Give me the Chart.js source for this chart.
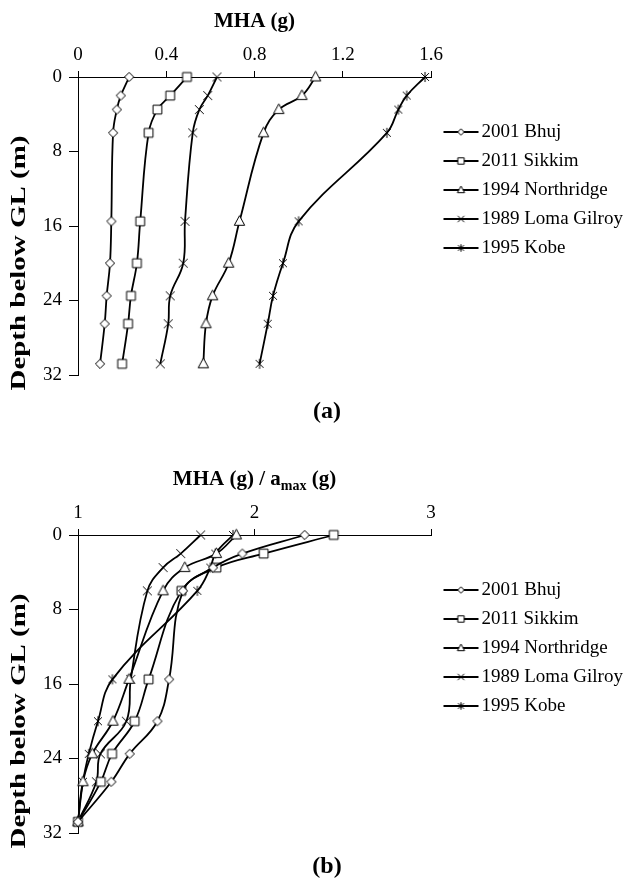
<!DOCTYPE html>
<html>
<head>
<meta charset="utf-8">
<script src="https://cdn.jsdelivr.net/npm/chart.js@4/dist/chart.umd.min.js"></script>
<style>
  html, body { margin: 0; padding: 0; background: #fff; }
  body { width: 630px; height: 878px; position: relative; overflow: hidden; }
  .wrap { position: absolute; left: 0; width: 630px; height: 420px; }
  .panel { position: absolute; font: bold 24px "Liberation Serif", "Times New Roman", serif; color: #000;
           width: 100px; text-align: center; line-height: 24px; }
</style>
</head>
<body>
<div class="wrap" style="top:0px"><canvas id="chartA" width="630" height="420"></canvas></div>
<div class="wrap" style="top:458px"><canvas id="chartB" width="630" height="420"></canvas></div>
<div class="panel" style="left:277px; top:398px">(a)</div>
<div class="panel" style="left:277px; top:853px">(b)</div>
<script>
// ---------- data ----------
const seriesNames = ['2001 Bhuj', '2011 Sikkim', '1994 Northridge', '1989 Loma Gilroy', '1995 Kobe'];
const depths = [0, 2, 3.5, 6, 15.5, 20, 23.5, 26.5, 30.8];

// (a) MHA (g)
const bhujA     = [0.232, 0.194, 0.176, 0.159, 0.151, 0.145, 0.130, 0.121, 0.100];
const sikkimA   = [0.494, 0.418, 0.360, 0.320, 0.282, 0.267, 0.240, 0.227, 0.200];
const northA    = [1.077, 1.015, 0.910, 0.841, 0.732, 0.683, 0.610, 0.580, 0.568];
const lomaA     = [0.630, 0.588, 0.550, 0.520, 0.485, 0.477, 0.418, 0.409, 0.373];
const kobeA     = [1.573, 1.490, 1.452, 1.400, 1.000, 0.929, 0.884, 0.860, 0.823];

// (b) MHA / amax
const bhujB     = [2.284, 1.931, 1.765, 1.595, 1.516, 1.450, 1.293, 1.189, 1.000];
const sikkimB   = [2.449, 2.052, 1.784, 1.586, 1.400, 1.321, 1.193, 1.129, 1.000];
const northB    = [1.897, 1.784, 1.605, 1.482, 1.289, 1.198, 1.081, 1.028, 1.000];
const lomaB     = [1.695, 1.582, 1.482, 1.393, 1.299, 1.274, 1.127, 1.104, 1.000];
const kobeB     = [1.878, 1.778, 1.750, 1.676, 1.195, 1.113, 1.061, 1.028, 1.000];

const xTickValsA = [0, 0.4, 0.8, 1.2, 1.6];
const xTickLabelsA = ['0', '0.4', '0.8', '1.2', '1.6'];
const xTickValsB = [1, 2, 3];
const xTickLabelsB = ['1', '2', '3'];
const yTickVals = [0, 8, 16, 24, 32];
const yTickLabels = ['0', '8', '16', '24', '32'];

const yTitle = 'Depth below GL (m)';
const xTitleA = [{text: 'MHA (g)'}];
const xTitleB = [{text: 'MHA (g) / a'}, {text: 'max', sub: true}, {text: ' (g)'}];

// ---------- markers ----------
const FONT = '"Liberation Serif", "Times New Roman", serif';

function drawMarker(g, kind, cx, cy, s) {
  g.save();
  g.strokeStyle = '#000'; g.fillStyle = '#fff'; g.lineWidth = 1;
  g.beginPath();
  if (kind === 'diamond') {
    g.moveTo(cx, cy - s); g.lineTo(cx + s, cy); g.lineTo(cx, cy + s); g.lineTo(cx - s, cy); g.closePath();
    g.fill(); g.stroke();
  } else if (kind === 'square') {
    g.rect(cx - s, cy - s, 2 * s, 2 * s); g.fill(); g.stroke();
  } else if (kind === 'triangle') {
    g.moveTo(cx, cy - s * 1.1); g.lineTo(cx + s, cy + s * 0.75); g.lineTo(cx - s, cy + s * 0.75); g.closePath();
    g.fill(); g.stroke();
  } else if (kind === 'x') {
    g.moveTo(cx - s, cy - s); g.lineTo(cx + s, cy + s); g.moveTo(cx + s, cy - s); g.lineTo(cx - s, cy + s); g.stroke();
  } else if (kind === 'star') {
    g.moveTo(cx - s * 0.85, cy - s * 0.85); g.lineTo(cx + s * 0.85, cy + s * 0.85);
    g.moveTo(cx + s * 0.85, cy - s * 0.85); g.lineTo(cx - s * 0.85, cy + s * 0.85);
    g.moveTo(cx, cy - s * 1.1); g.lineTo(cx, cy + s * 1.1); g.stroke();
  }
  g.restore();
}
function markerCanvas(kind, s) {
  const size = Math.ceil(2 * s * 1.2 + 4);
  const c = document.createElement('canvas'); c.width = size; c.height = size;
  drawMarker(c.getContext('2d'), kind, size / 2, size / 2, s);
  return c;
}
function legendCanvas(kind, s) {
  const c = document.createElement('canvas'); c.width = 46; c.height = 14;
  const g = c.getContext('2d');
  g.strokeStyle = '#000'; g.lineWidth = 1.8;
  g.beginPath(); g.moveTo(10, 7); g.lineTo(45, 7); g.stroke();
  drawMarker(g, kind, 27.5, 7, s);
  return c;
}
const kinds = ['diamond', 'square', 'triangle', 'x', 'star'];
const markerSizes = [4.6, 4.4, 5.2, 4.4, 4.6];
const legendSizes = [3.2, 3.2, 3.6, 3.2, 3.4];
const pointImgs = kinds.map((k, i) => markerCanvas(k, markerSizes[i]));
const legendImgs = kinds.map((k, i) => legendCanvas(k, legendSizes[i]));

// ---------- titles plugin ----------
const axisTitles = {
  id: 'axisTitles',
  afterDraw(chart, args, opts) {
    const {ctx, chartArea} = chart;
    ctx.save();
    ctx.fillStyle = '#000';
    const mainFont = 'bold ' + opts.size + 'px ' + FONT;
    const subFont = 'bold ' + opts.subSize + 'px ' + FONT;
    let total = 0;
    const widths = opts.xParts.map(p => { ctx.font = p.sub ? subFont : mainFont; const w = ctx.measureText(p.text).width; total += w; return w; });
    let x = (chartArea.left + chartArea.right) / 2 - total / 2;
    ctx.textBaseline = 'alphabetic'; ctx.textAlign = 'left';
    opts.xParts.forEach((p, i) => {
      ctx.font = p.sub ? subFont : mainFont;
      ctx.fillText(p.text, x, opts.xBaseline + (p.sub ? opts.subShift : 0));
      x += widths[i];
    });
    ctx.translate(opts.yCenterX, chartArea.top + opts.yCenterOffset);
    ctx.rotate(-Math.PI / 2);
    ctx.font = mainFont;
    const w = ctx.measureText(opts.yText).width;
    ctx.scale(opts.yLength / w, 1);
    ctx.textAlign = 'center'; ctx.textBaseline = 'middle';
    ctx.fillText(opts.yText, 0, 0);
    ctx.restore();
  }
};

function makeChart(id, seriesList, xMin, xMax, tickVals, tickLabels, titleParts) {
  const datasets = seriesList.map((vals, i) => ({
    label: seriesNames[i],
    data: vals.map((v, j) => ({x: v, y: depths[j]})),
    showLine: true,
    borderColor: '#000',
    borderWidth: 1.8,
    tension: 0.4,
    fill: false,
    pointStyle: pointImgs[i],
    pointRadius: 5,
    pointHoverRadius: 5,
    clip: false
  }));
  return new Chart(document.getElementById(id), {
    type: 'scatter',
    data: {datasets},
    plugins: [axisTitles],
    options: {
      responsive: false,
      animation: false,
      devicePixelRatio: 1,
      layout: {padding: {top: 5, bottom: 45, left: 0, right: 0}},
      scales: {
        x: {
          type: 'linear', position: 'top', min: xMin, max: xMax,
          afterBuildTicks: s => { s.ticks = tickVals.map(v => ({value: v})); },
          afterFit: s => { s.height = 72; },
          ticks: {
            color: '#000', padding: 5, maxRotation: 0,
            font: {family: FONT, size: 19},
            callback: (v, i) => tickLabels[i]
          },
          grid: {display: true, drawOnChartArea: false, drawTicks: true, tickLength: 6, color: '#000', lineWidth: 1},
          border: {display: true, color: '#000', width: 1}
        },
        y: {
          type: 'linear', position: 'left', reverse: true, min: 0, max: 32,
          afterBuildTicks: s => { s.ticks = yTickVals.map(v => ({value: v})); },
          afterFit: s => { s.width = 78; },
          ticks: {
            color: '#000', padding: 7,
            font: {family: FONT, size: 19},
            callback: (v, i) => yTickLabels[i]
          },
          grid: {display: true, drawOnChartArea: false, drawTicks: true, tickLength: 9, color: '#000', lineWidth: 1},
          border: {display: true, color: '#000', width: 1}
        }
      },
      plugins: {
        tooltip: {enabled: false},
        legend: {
          display: true, position: 'right', align: 'center', maxWidth: 199,
          labels: {
            color: '#000', font: {family: FONT, size: 19}, padding: 10,
            usePointStyle: true, pointStyleWidth: 31,
            generateLabels: chart => chart.data.datasets.map((ds, i) => ({
              text: ds.label, pointStyle: legendImgs[i], datasetIndex: i, hidden: false,
              lineWidth: 0, strokeStyle: 'rgba(0,0,0,0)', fillStyle: 'rgba(0,0,0,0)', fontColor: '#000'
            }))
          }
        },
        axisTitles: {
          xParts: titleParts, size: 21, subSize: 14, subShift: 5, xBaseline: 27,
          yText: yTitle, yLength: 255, yCenterX: 20, yCenterOffset: 186
        }
      }
    }
  });
}

makeChart('chartA', [bhujA, sikkimA, northA, lomaA, kobeA], 0, 1.6, xTickValsA, xTickLabelsA, xTitleA);
makeChart('chartB', [bhujB, sikkimB, northB, lomaB, kobeB], 1, 3, xTickValsB, xTickLabelsB, xTitleB);
</script>
</body>
</html>
